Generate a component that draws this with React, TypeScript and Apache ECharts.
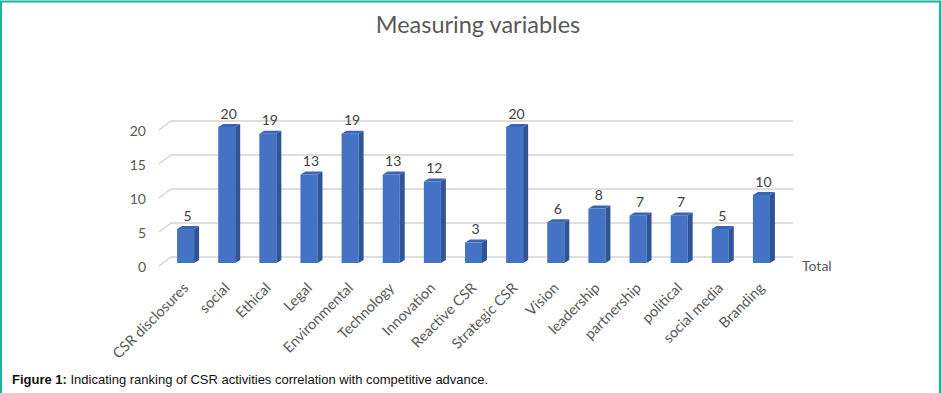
import React, { useEffect, useRef } from "react";
import * as echarts from "echarts";

const categories = [
  "CSR disclosures", "social", "Ethical", "Legal", "Environmental", "Technology",
  "Innovation", "Reactive CSR", "Strategic CSR", "Vision", "leadership",
  "partnership", "political", "social media", "Branding",
];
const totals = [5, 20, 19, 13, 19, 13, 12, 3, 20, 6, 8, 7, 7, 5, 10];
const yTicks = [0, 5, 10, 15, 20];
const titleText = "Measuring variables";
const legendText = "Total";
const captionBold = "Figure 1:";
const captionRest = " Indicating ranking of CSR activities correlation with competitive advance.";

const FONT = "Lato";

export default function App() {
  const ref = useRef<HTMLDivElement>(null);
  useEffect(() => {
    document.body.style.margin = "0";
    const chart = echarts.init(ref.current!, undefined, { renderer: "svg" });
    const DX = 5, DY = 3, HALF = 8.5, SHIFT = 3;
    chart.setOption({
      animation: false,
      grid: { left: 165, right: 159, top: 130, bottom: 127 },
      xAxis: {
        type: "category",
        data: categories,
        axisLine: { show: false },
        axisTick: { show: false },
        axisLabel: { rotate: 45, color: "#595959", fontSize: 14.5, fontFamily: FONT, margin: 19, interval: 0 },
      },
      yAxis: {
        type: "value",
        min: 0,
        max: 20,
        interval: 5,
        splitLine: { show: false },
        axisLine: { show: false },
        axisTick: { show: false },
        axisLabel: { color: "#595959", fontSize: 14, fontFamily: FONT, margin: 19 },
      },
      series: [
        {
          type: "custom",
          data: yTicks.map((t) => [0, t]),
          z: 1,
          renderItem: (params: any, api: any) => {
            const cs = params.coordSys;
            const y = api.coord([0, api.value(1)])[1];
            return {
              type: "polyline",
              shape: {
                points: [
                  [cs.x - 6, y],
                  [cs.x + 6, y - 9],
                  [cs.x + cs.width + 11, y - 9],
                ],
              },
              style: { stroke: "#d4d4d4", lineWidth: 1.3, fill: "none" },
            };
          },
        },
        {
          type: "custom",
          data: totals.map((v, i) => [i, v]),
          z: 2,
          renderItem: (params: any, api: any) => {
            const i = api.value(0);
            const v = api.value(1);
            const base = api.coord([i, 0]);
            const top = api.coord([i, v]);
            const cx = base[0];
            const yb = base[1] - SHIFT;
            const yt = top[1] - SHIFT;
            return {
              type: "group",
              children: [
                {
                  type: "rect",
                  shape: { x: cx - HALF, y: yt, width: HALF * 2, height: yb - yt },
                  style: { fill: "#4472C4" },
                },
                {
                  type: "polygon",
                  shape: {
                    points: [
                      [cx + HALF, yt],
                      [cx + HALF + DX, yt - DY],
                      [cx + HALF + DX, yb - DY],
                      [cx + HALF, yb],
                    ],
                  },
                  style: { fill: "#2F5597" },
                },
                {
                  type: "polygon",
                  shape: {
                    points: [
                      [cx - HALF, yt],
                      [cx - HALF + DX, yt - DY],
                      [cx + HALF + DX, yt - DY],
                      [cx + HALF, yt],
                    ],
                  },
                  style: { fill: "#3A64B4" },
                },
                {
                  type: "text",
                  style: {
                    text: String(v),
                    x: cx + 2,
                    y: yt - 14,
                    textAlign: "center",
                    textVerticalAlign: "middle",
                    fill: "#404040",
                    fontSize: 14,
                    fontFamily: FONT,
                  },
                },
              ],
            };
          },
        },
      ],
      graphic: [
        {
          type: "rect",
          shape: { x: 1, y: 1.5, width: 939, height: 420 },
          style: { fill: "none", stroke: "#1DB39E", lineWidth: 2 },
          silent: true,
        },
        {
          type: "text",
          style: {
            text: titleText,
            x: 478,
            y: 24,
            textAlign: "center",
            textVerticalAlign: "middle",
            fill: "#595959",
            fontSize: 23.5,
            fontFamily: FONT,
          },
        },
        {
          type: "text",
          style: {
            text: legendText,
            x: 802,
            y: 265,
            textVerticalAlign: "middle",
            fill: "#595959",
            fontSize: 14,
            fontFamily: FONT,
          },
        },
        {
          type: "text",
          style: {
            text: "{b|" + captionBold + "}{n|" + captionRest + "}",
            x: 12,
            y: 379,
            textVerticalAlign: "middle",
            rich: {
              b: { fontWeight: "bold", fontSize: 13, fontFamily: "Liberation Sans", fill: "#111" },
              n: { fontSize: 13, fontFamily: "Liberation Sans", fill: "#111" },
            },
          },
        },
      ],
    });
    return () => chart.dispose();
  }, []);
  return (
    <div
      ref={ref}
      style={{ position: "fixed", left: 0, top: 0, width: 941, height: 393, background: "#fff" }}
    />
  );
}
